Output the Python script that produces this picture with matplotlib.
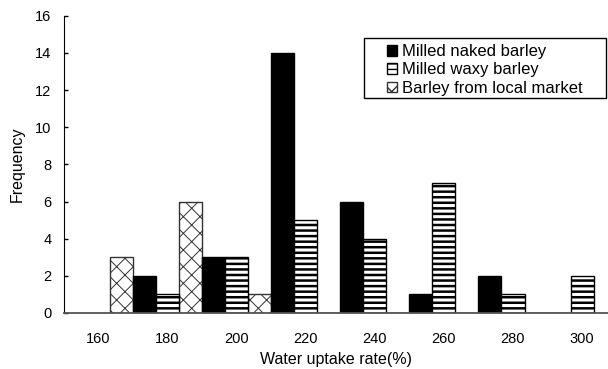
import numpy as np
import matplotlib
matplotlib.use('Agg')
import matplotlib.pyplot as plt
from matplotlib.patches import Rectangle

plt.rcParams['font.family'] = ['Liberation Sans', 'DejaVu Sans']

# upper value of each bin (tick labels are 160..300)
bins = [180, 200, 220, 240, 260, 280, 300]
tick_labels = [160, 180, 200, 220, 240, 260, 280, 300]
local_market = [3, 6, 1, 0, 0, 0, 0]
naked = [2, 3, 14, 6, 1, 2, 0]
waxy = [1, 3, 5, 4, 7, 1, 2]

fig = plt.figure(figsize=(6.08, 3.69), dpi=100)
ax = fig.add_axes([0.105, 0.152, 0.895, 0.805])

w = 20 / 3
centers = np.array(bins) - w

def hbar(x, h, **kw):
    lw = kw.pop('hatch_lw', None)
    bars = ax.bar(x, h, width=w, **kw)
    if lw is not None:
        for b in bars:
            if hasattr(b, 'set_hatch_linewidth'):
                b.set_hatch_linewidth(lw)
    return bars

b_local = hbar(centers - w, local_market, facecolor='white', edgecolor='#333333',
               linewidth=1.0, hatch='xx', hatch_lw=0.7, label='Barley from local market')
b_naked = hbar(centers, naked, facecolor='black', edgecolor='black',
               linewidth=1.0, label='Milled naked barley')
b_waxy = hbar(centers + w, waxy, facecolor='white', edgecolor='black',
              linewidth=1.0, hatch='---', hatch_lw=1.8, label='Milled waxy barley')

ax.set_xlim(150, 307.5)
ax.set_ylim(0, 16)
ax.set_yticks(np.arange(0, 17, 2))
ax.set_xticks(tick_labels)
ax.set_xticklabels([str(t) for t in tick_labels])

ax.spines['top'].set_visible(False)
ax.spines['right'].set_visible(False)
ax.spines['left'].set_color('black')
ax.spines['bottom'].set_color('#555555')
ax.spines['bottom'].set_linewidth(1.3)
ax.tick_params(axis='y', direction='in', length=3, width=1, labelsize=10.5, pad=9)
ax.tick_params(axis='x', length=0, labelsize=10.5, pad=14)

ax.set_xlabel('Water uptake rate(%)', fontsize=11.5, labelpad=4)
ax.set_ylabel('Frequency', fontsize=11.5, labelpad=7)

# legend box
ax.add_patch(Rectangle((0.551, 0.723), 0.445, 0.203, transform=ax.transAxes,
                       facecolor='white', edgecolor='black', linewidth=1.0,
                       clip_on=False, zorder=4))
leg = ax.legend([b_naked, b_waxy, b_local],
                ['Milled naked barley', 'Milled waxy barley', 'Barley from local market'],
                loc='upper left', bbox_to_anchor=(0.593, 0.905), frameon=False,
                fontsize=12, handlelength=0.6, handleheight=0.6,
                handletextpad=0.3, labelspacing=0.2, borderpad=0, borderaxespad=0)
leg.set_zorder(5)

fig.savefig('out.png', dpi=100)
